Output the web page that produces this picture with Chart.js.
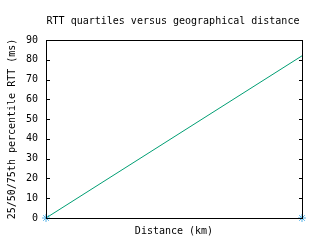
<!DOCTYPE html>
<html>
<head>
<meta charset="utf-8">
<script src="https://cdn.jsdelivr.net/npm/chart.js@4/dist/chart.umd.min.js"></script>
<style>
  html, body { margin: 0; padding: 0; background: #fff; }
  canvas { display: block; }
</style>
</head>
<body>
<canvas id="grafico" width="320" height="240"></canvas>
<script>
// distance axis has no tick labels, so positions are just 0..1
const distancia = [0, 1]
const rttMediana = [0, 82]
const rttPontos = [0, 0]
const yTicks = [0, 10, 20, 30, 40, 50, 60, 70, 80, 90]

const titulo = 'RTT quartiles versus geographical distance'
const fonte = '"DejaVu Sans Mono", "Liberation Mono", monospace'

const caixa = {
  id: 'caixa',
  afterDatasetsDraw(chart) {
    const ctx = chart.ctx
    const a = chart.chartArea
    const y = chart.scales.y
    ctx.save()
    ctx.strokeStyle = '#000'
    ctx.lineWidth = 1
    ctx.strokeRect(a.left + 0.5, a.top + 0.5, a.right - a.left, a.bottom - a.top)
    ctx.beginPath()
    yTicks.forEach(v => {
      const py = Math.round(y.getPixelForValue(v)) + 0.5
      ctx.moveTo(a.left, py)
      ctx.lineTo(a.left + 4, py)
      ctx.moveTo(a.right + 1, py)
      ctx.lineTo(a.right - 3, py)
    })
    ctx.stroke()
    ctx.fillStyle = '#000'
    ctx.font = '10px ' + fonte
    ctx.textAlign = 'center'
    ctx.textBaseline = 'middle'
    ctx.fillText(titulo, (a.left + a.right) / 2 - 1, 21)
    ctx.restore()
  }
}

const meuGrafico = new Chart(document.getElementById('grafico').getContext('2d'), {
  type: 'line',
  data: {
    datasets: [{
      data: distancia.map((x, i) => ({ x: x, y: rttPontos[i] })),
      showLine: false,
      pointStyle: 'star',
      pointRadius: 4,
      pointBorderWidth: 1,
      pointBorderColor: '#56b4e9',
      pointBackgroundColor: '#56b4e9',
      clip: false
    }, {
      data: distancia.map((x, i) => ({ x: x, y: rttMediana[i] })),
      borderColor: '#009e73',
      borderWidth: 1,
      pointRadius: 0,
      tension: 0
    }]
  },
  options: {
    responsive: false,
    animation: false,
    layout: { padding: { top: 40, right: 18, left: 0, bottom: 0 } },
    plugins: {
      legend: { display: false },
      tooltip: { enabled: false }
    },
    scales: {
      x: {
        type: 'linear',
        min: 0,
        max: 1,
        grid: { display: false },
        border: { display: false },
        ticks: { display: false },
        title: {
          display: true,
          text: 'Distance (km)',
          color: '#000',
          font: { family: fonte, size: 10 },
          padding: 3
        },
        afterFit(s) { s.height = 22 }
      },
      y: {
        min: 0,
        max: 90,
        grid: { display: false, drawTicks: false },
        border: { display: false },
        ticks: {
          stepSize: 10,
          padding: 8,
          color: '#000',
          font: { family: fonte, size: 10 }
        },
        title: {
          display: true,
          text: '25/50/75th percentile RTT (ms)',
          color: '#000',
          font: { family: fonte, size: 10 },
          padding: 6
        },
        afterFit(s) { s.width = 46 }
      }
    }
  },
  plugins: [caixa]
})
</script>
</body>
</html>
